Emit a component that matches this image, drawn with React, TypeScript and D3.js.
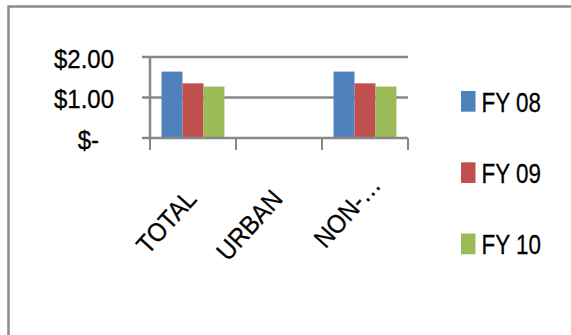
import React from "react";
import * as d3 from "d3";

const categories = ["TOTAL", "URBAN", "NON-…"];
const seriesNames = ["FY 08", "FY 09", "FY 10"];
const fy08 = [1.64, 0, 1.64];
const fy09 = [1.35, 0, 1.35];
const fy10 = [1.27, 0, 1.27];
const yTicks = [0, 1, 2];
const yTickLabels = ["$-", "$1.00", "$2.00"];
const colors = ["#4F81BD", "#C0504D", "#9BBB59"];

const FONT = "'Liberation Sans', Arial, sans-serif";

export default function App() {
  const W = 571, H = 335;
  const x0 = 150, x1 = 408, yTop = 57, yBot = 138;
  const x = d3.scaleBand<string>().domain(categories).range([x0, x1]).paddingInner(0).paddingOuter(0);
  const y = d3.scaleLinear().domain([0, 2]).range([yBot, yTop]);
  const inner = d3.scaleBand<string>().domain(seriesNames).range([0, x.bandwidth()]).paddingOuter(0.55).paddingInner(0);
  const series = [fy08, fy09, fy10];
  const grid = "#878787";
  return (
    <svg width={W} height={H} style={{ position: "absolute", left: 0, top: 0, background: "#fff" }}>
      <rect x={8.5} y={6.5} width={W + 10} height={H + 10} fill="#fff" stroke="#8c8c8c" strokeWidth={2.5} />
      {yTicks.filter((t) => t > 0).map((t) => (
        <line key={"g" + t} x1={x0 - 8} x2={x1} y1={y(t)} y2={y(t)} stroke={grid} strokeWidth={2.5} />
      ))}
      {series.map((vals, si) =>
        categories.map((c, ci) =>
          vals[ci] > 0 ? (
            <rect
              key={si + "-" + ci}
              x={(x(c) as number) + (inner(seriesNames[si]) as number)}
              y={y(vals[ci])}
              width={inner.bandwidth()}
              height={yBot - y(vals[ci])}
              fill={colors[si]}
            />
          ) : null
        )
      )}
      <line x1={x0} x2={x0} y1={yTop} y2={yBot} stroke={grid} strokeWidth={2.5} />
      <line x1={x0 - 8} x2={x1} y1={yBot} y2={yBot} stroke={grid} strokeWidth={2.5} />
      {[...categories.map((c) => x(c) as number), x1].map((px, i) => (
        <line key={"t" + i} x1={px} x2={px} y1={yBot} y2={yBot + 12} stroke={grid} strokeWidth={2} />
      ))}
      {yTicks.map((t, i) => (
        <text
          key={"yl" + t}
          transform={`translate(${t === 0 ? 99 : 114},${y(t) + 2}) scale(0.96,1)`}
          textAnchor="end"
          dominantBaseline="central"
          fontFamily={FONT}
          fontSize={25}
          fill="#000"
          stroke="#000"
          strokeWidth={0.3}
        >
          {yTickLabels[i]}
        </text>
      ))}
      {categories.map((c) => {
        const cx = (x(c) as number) + x.bandwidth() / 2 + 5;
        const cy = yBot + 62;
        const truncated = c.endsWith("…");
        return (
          <text
            key={"xl" + c}
            transform={`translate(${cx},${cy}) rotate(-48) scale(0.92,1)`}
            textAnchor="end"
            dx={truncated ? 20 : 0}
            fontFamily={FONT}
            fontSize={26}
            fill="#000"
            stroke="#000"
            strokeWidth={0.3}
          >
            {c}
          </text>
        );
      })}
      {seriesNames.map((s, i) => {
        const by = 111.7 + i * 71.3;
        return (
          <g key={"lg" + s}>
            <rect x={461} y={by - 20.7} width={14.5} height={20.7} fill={colors[i]} />
            <text
              transform={`translate(481.5,${by}) scale(0.8,1)`}
              fontFamily={FONT}
              fontSize={28}
              fill="#000"
              stroke="#000"
              strokeWidth={0.3}
            >
              {s}
            </text>
          </g>
        );
      })}
    </svg>
  );
}
